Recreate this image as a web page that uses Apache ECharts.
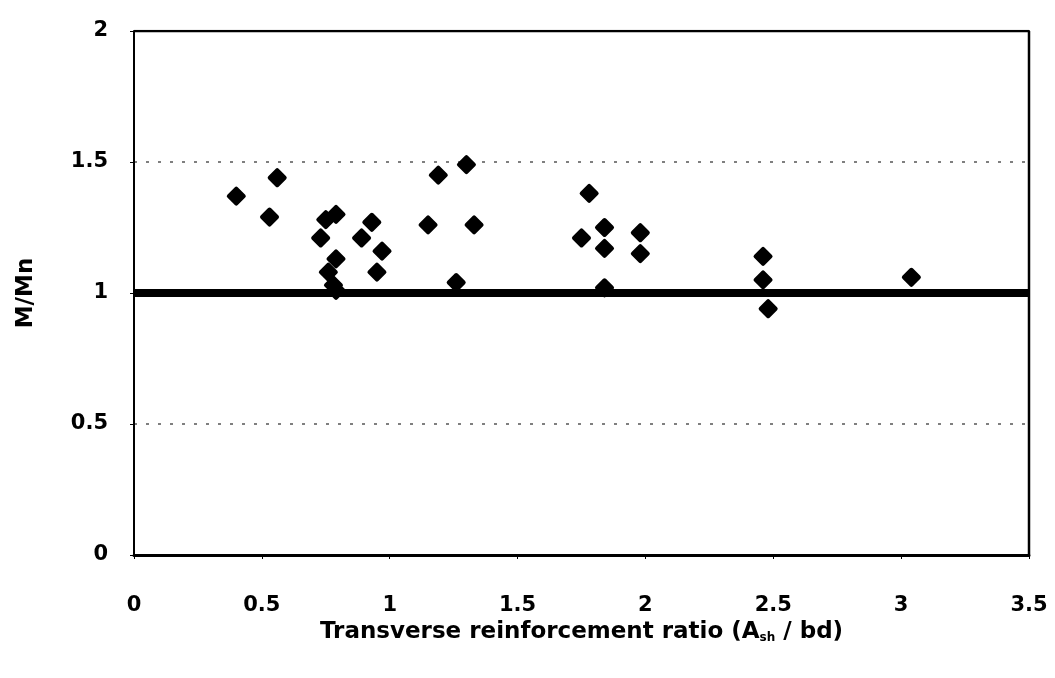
<!DOCTYPE html>
<html>
<head>
<meta charset="utf-8">
<title>M/Mn vs transverse reinforcement ratio</title>
<script src="https://cdn.jsdelivr.net/npm/echarts@6/dist/echarts.min.js"></script>
<style>
  html, body { margin: 0; padding: 0; background: #ffffff; }
  #chart { width: 1055px; height: 678px; }
</style>
</head>
<body>
<div id="chart"></div>
<script>
// Transverse reinforcement ratio (Ash / bd) of each specimen
const ratioValues = [
  0.40, 0.56, 0.53, 0.73, 0.75, 0.79, 0.79, 0.76, 0.78, 0.79,
  0.93, 0.89, 0.97, 0.95, 1.15, 1.19, 1.30, 1.33, 1.26, 1.78,
  1.75, 1.84, 1.84, 1.84, 1.98, 1.98, 2.46, 2.46, 2.48, 3.04
];
// Measured-to-nominal moment ratio of each specimen
const momentRatios = [
  1.37, 1.44, 1.29, 1.21, 1.28, 1.30, 1.13, 1.08, 1.03, 1.01,
  1.27, 1.21, 1.16, 1.08, 1.26, 1.45, 1.49, 1.26, 1.04, 1.38,
  1.21, 1.25, 1.17, 1.02, 1.23, 1.15, 1.14, 1.05, 0.94, 1.06
];
const xTicks = [0, 0.5, 1, 1.5, 2, 2.5, 3, 3.5];
const yTicks = [0, 0.5, 1, 1.5, 2];
const referenceRatio = 1;

const points = ratioValues.map((x, i) => [x, momentRatios[i]]);
const font = 'DejaVu Sans';

const chart = echarts.init(document.getElementById('chart'), null, { renderer: 'canvas' });
chart.setOption({
  animation: false,
  backgroundColor: '#ffffff',
  grid: { left: 134, right: 26, top: 31, bottom: 123, show: false },
  xAxis: {
    type: 'value',
    min: xTicks[0],
    max: xTicks[xTicks.length - 1],
    interval: 0.5,
    name: 'Transverse reinforcement ratio (A{sub|sh} / bd)',
    nameLocation: 'middle',
    nameGap: 66,
    nameTextStyle: {
      fontFamily: font, fontWeight: 'bold', fontSize: 23, color: '#000',
      rich: { sub: { fontFamily: font, fontWeight: 'bold', fontSize: 12, color: '#000', verticalAlign: 'bottom', padding: [7, 0, 0, 0] } }
    },
    axisLine: { show: true, onZero: false, lineStyle: { color: '#000', width: 3 } },
    axisTick: { show: true, length: 4, lineStyle: { color: '#000', width: 1 } },
    axisLabel: {
      margin: 40, fontFamily: font, fontWeight: 'bold', fontSize: 21, color: '#000',
      formatter: v => String(v)
    },
    splitLine: { show: false }
  },
  yAxis: {
    type: 'value',
    min: yTicks[0],
    max: yTicks[yTicks.length - 1],
    interval: 0.5,
    name: 'M/Mn',
    nameLocation: 'middle',
    nameGap: 96,
    nameRotate: 90,
    nameTextStyle: { fontFamily: font, fontWeight: 'bold', fontSize: 23, color: '#000' },
    axisLine: { show: true, onZero: false, lineStyle: { color: '#000', width: 2 } },
    axisTick: { show: true, length: 4, lineStyle: { color: '#000', width: 1 } },
    axisLabel: {
      margin: 26, fontFamily: font, fontWeight: 'bold', fontSize: 21, color: '#000',
      formatter: v => String(v)
    },
    splitLine: {
      show: true,
      lineStyle: { color: '#555', width: 1.5, type: [3, 9] }
    }
  },
  series: [
    {
      type: 'scatter',
      data: points,
      symbol: 'diamond',
      symbolSize: 15,
      itemStyle: { color: '#000', opacity: 1, borderColor: '#000', borderWidth: 4, borderJoin: 'round' },
      z: 3,
      markLine: {
        silent: true,
        symbol: 'none',
        label: { show: false },
        lineStyle: { color: '#000', width: 8, type: 'solid', opacity: 1 },
        data: [{ yAxis: referenceRatio }],
        z: 2
      }
    },
    {
      // plot frame: top border at y = 2 and right border at x = 3.5
      type: 'line',
      data: [[xTicks[0], yTicks[yTicks.length - 1]], [xTicks[xTicks.length - 1], yTicks[yTicks.length - 1]], [xTicks[xTicks.length - 1], yTicks[0]]],
      symbol: 'none',
      lineStyle: { color: '#000', width: 2.5 },
      silent: true,
      z: 1
    }
  ]
});
</script>
</body>
</html>
